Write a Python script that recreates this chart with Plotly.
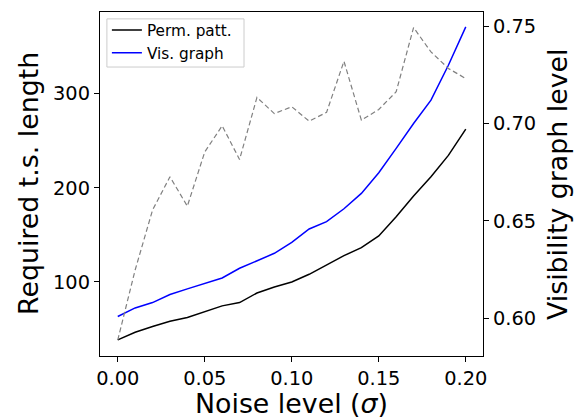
import plotly.graph_objects as go

noise = [0.00, 0.01, 0.02, 0.03, 0.04, 0.05, 0.06, 0.07, 0.08, 0.09, 0.10,
         0.11, 0.12, 0.13, 0.14, 0.15, 0.16, 0.17, 0.18, 0.19, 0.20]

perm_patt = [38.5, 46.6, 52.7, 58.3, 62.2, 68.2, 74.6, 78.1, 88.3, 94.7, 100.0,
             108.1, 118.0, 127.9, 136.4, 148.8, 169.3, 191.2, 211.7, 234.3, 262.2]

vis_graph = [63.3, 72.4, 78.1, 86.6, 92.6, 98.2, 104.2, 114.5, 122.6, 130.4, 142.0,
             156.2, 164.0, 177.7, 194.0, 215.9, 241.7, 268.2, 292.9, 330.0, 370.7]

vg_level = [0.5887, 0.6247, 0.6555, 0.6726, 0.6575, 0.6854, 0.6988, 0.6815, 0.7134, 0.7051, 0.7086,
            0.7012, 0.7057, 0.7320, 0.7017, 0.7072, 0.7163, 0.7493, 0.7368, 0.7283, 0.7231]

x_ticks = [0.00, 0.05, 0.10, 0.15, 0.20]
x_ticklabels = ["0.00", "0.05", "0.10", "0.15", "0.20"]
y_ticks = [100, 200, 300]
y2_ticks = [0.60, 0.65, 0.70, 0.75]
y2_ticklabels = ["0.60", "0.65", "0.70", "0.75"]

x_title = "Noise level (<i>σ</i>)"
y_title = "Required t.s. length"
y2_title = "Visibility graph level"

FONT = "DejaVu Sans"
TITLE_SIZE = 26.8
TICK_SIZE = 19.4

fig = go.Figure()
fig.add_trace(go.Scatter(x=noise, y=perm_patt, mode="lines", name="Perm. patt.",
                         line=dict(color="#000000", width=1.5)))
fig.add_trace(go.Scatter(x=noise, y=vis_graph, mode="lines", name="Vis. graph",
                         line=dict(color="#0000ff", width=1.5)))
fig.add_trace(go.Scatter(x=noise, y=vg_level, mode="lines", name="VG level",
                         line=dict(color="#808080", width=1.2, dash="5px,3px"),
                         yaxis="y2", showlegend=False))

axis_common = dict(showline=True, linecolor="black", linewidth=1.3,
                   ticks="outside", ticklen=5, tickwidth=1, tickcolor="black",
                   showgrid=False, zeroline=False, automargin=False,
                   tickfont=dict(family=FONT, size=TICK_SIZE, color="black"))

fig.update_layout(
    width=574, height=418,
    margin=dict(l=100, r=91, t=12, b=62),
    paper_bgcolor="white", plot_bgcolor="white",
    font=dict(family=FONT, color="black"),
    xaxis=dict(range=[-0.0102, 0.2099], tickvals=x_ticks, ticktext=x_ticklabels,
               mirror=True, **axis_common),
    yaxis=dict(range=[21.4, 386.5], tickvals=y_ticks, mirror=True, **axis_common),
    yaxis2=dict(range=[0.5805, 0.7573], tickvals=y2_ticks, ticktext=y2_ticklabels,
                overlaying="y", side="right", **axis_common),
    legend=dict(x=0.018, y=0.9956, xanchor="left", yanchor="top",
                bgcolor="rgba(0,0,0,0)", borderwidth=0,
                font=dict(family=FONT, size=15.3, color="black"),
                tracegroupgap=0),
    showlegend=True,
    shapes=[
        dict(type="rect", xref="paper", yref="paper", x0=0.018, x1=0.376, y0=0.840, y1=0.980,
             line=dict(color="#cccccc", width=1), fillcolor="rgba(255,255,255,0.8)", layer="above"),
    ],
    annotations=[
        dict(text=x_title, xref="paper", yref="paper", x=0.5, y=0,
             xanchor="center", yanchor="middle", yshift=-47, showarrow=False,
             font=dict(family=FONT, size=TITLE_SIZE, color="black")),
        dict(text=y_title, xref="paper", yref="paper", x=0, y=0.5, textangle=-90,
             xanchor="center", yanchor="middle", xshift=-72, showarrow=False,
             font=dict(family=FONT, size=TITLE_SIZE, color="black")),
        dict(text=y2_title, xref="paper", yref="paper", x=1, y=0.5, textangle=-90,
             xanchor="center", yanchor="middle", xshift=74, showarrow=False,
             font=dict(family=FONT, size=TITLE_SIZE, color="black")),
    ],
)

fig.write_html("out.html", config={"displayModeBar": False},
               post_script="document.body.style.margin='0';document.body.style.overflow='hidden';")
